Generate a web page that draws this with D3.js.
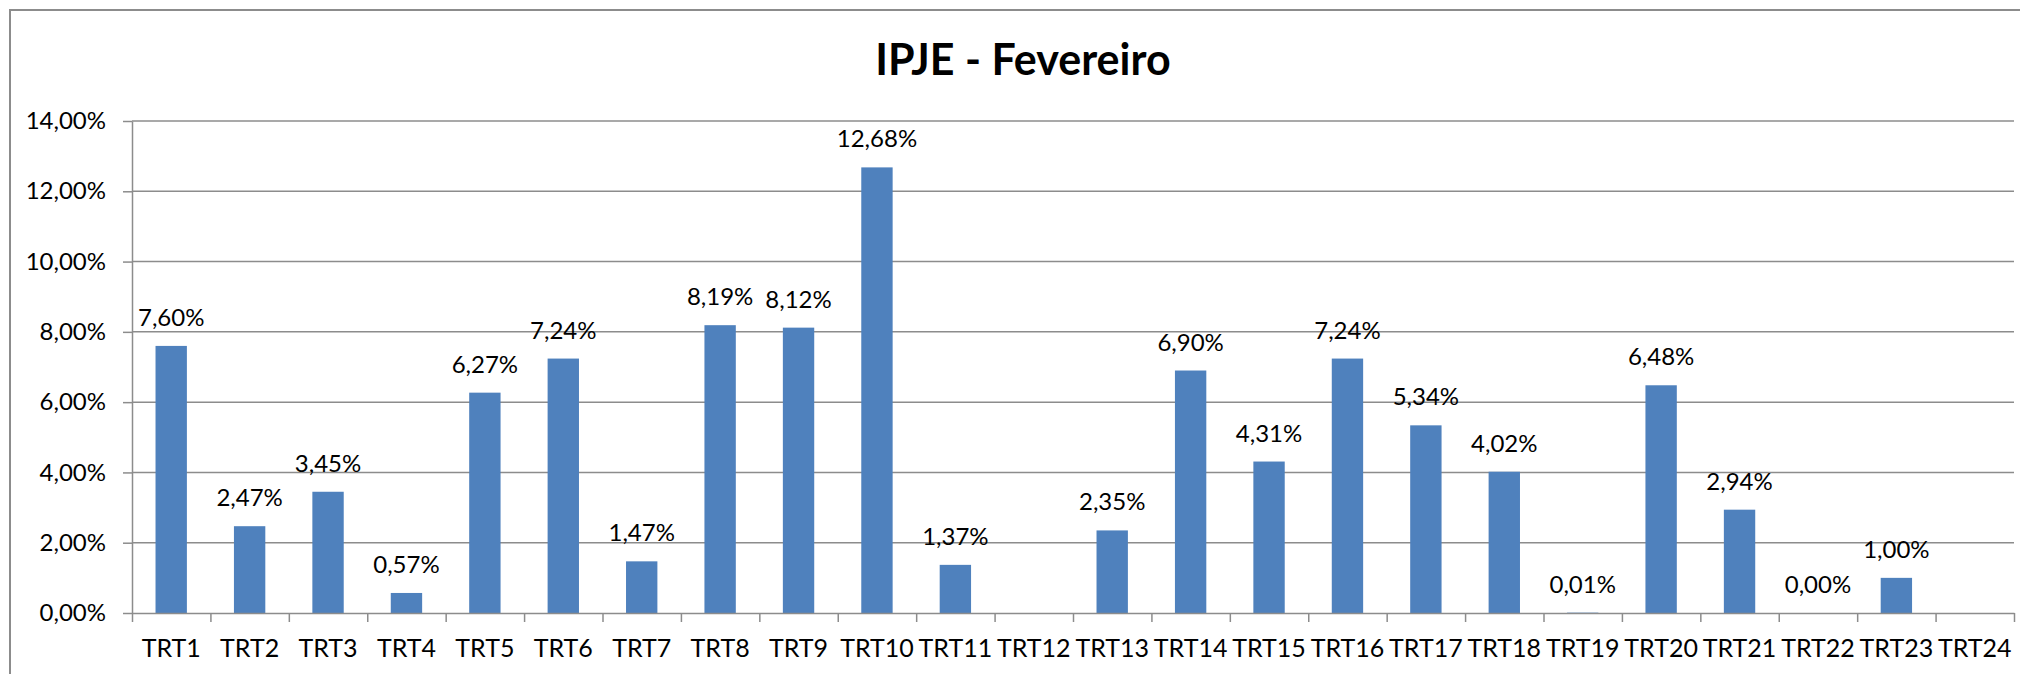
<!DOCTYPE html>
<html>
<head>
<meta charset="utf-8">
<script src="https://cdn.jsdelivr.net/npm/d3@7"></script>
<style>
  body { margin: 0; background: #fff; }
  svg { display: block; }
  .axis path, .axis line { stroke: #8c8c8c; stroke-width: 1.5; }
  text { font-family: Lato, "Open Sans", sans-serif; fill: #000; }
</style>
</head>
<body>
<svg id="vis"></svg>
<script>
// chart data
const categories = ["TRT1","TRT2","TRT3","TRT4","TRT5","TRT6","TRT7","TRT8","TRT9","TRT10","TRT11","TRT12",
  "TRT13","TRT14","TRT15","TRT16","TRT17","TRT18","TRT19","TRT20","TRT21","TRT22","TRT23","TRT24"]
const values = [7.60, 2.47, 3.45, 0.57, 6.27, 7.24, 1.47, 8.19, 8.12, 12.68, 1.37, null,
  2.35, 6.90, 4.31, 7.24, 5.34, 4.02, 0.01, 6.48, 2.94, 0.00, 1.00, null]
const yTicks = [0, 2, 4, 6, 8, 10, 12, 14]
const title = "IPJE - Fevereiro"

const W = 2020, H = 674
const margin = {top: 121, right: 6, bottom: 61, left: 132}
const width = W - margin.left - margin.right
const height = H - margin.top - margin.bottom

const fmt = v => v.toFixed(2).replace(".", ",") + "%"

const svg = d3.select("#vis").attr("width", W).attr("height", H)

// outer frame
svg.append("rect")
  .attr("x", 10).attr("y", 10)
  .attr("width", W + 20).attr("height", H + 20)
  .attr("fill", "none").attr("stroke", "#8c8c8c").attr("stroke-width", 2)

svg.append("text")
  .attr("x", 1023).attr("y", 75)
  .attr("text-anchor", "middle")
  .style("font-size", "43px").style("font-weight", "bold")
  .text(title)

const chart = svg.append("g").attr("transform", `translate(${margin.left},${margin.top})`)

const x = d3.scaleBand().domain(categories).range([0, width]).paddingInner(0.6).paddingOuter(0.3)
const xEdges = d3.scaleLinear().domain([0, categories.length]).range([0, width])
const y = d3.scaleLinear().domain([0, 14]).range([height, 0])

// gridlines
chart.append("g")
  .selectAll("line")
  .data(yTicks.filter(d => d > 0))
  .join("line")
  .attr("x1", 0).attr("x2", width)
  .attr("y1", d => y(d)).attr("y2", d => y(d))
  .attr("stroke", "#8c8c8c").attr("stroke-width", 1.5)

// y axis
const yAxis = chart.append("g").attr("class", "axis")
  .call(d3.axisLeft(y).tickValues(yTicks).tickFormat(fmt).tickSizeInner(9).tickSizeOuter(0).tickPadding(17))
yAxis.selectAll("text").style("font-size", "24px")

// bars
const points = categories.map((c, i) => ({c, v: values[i]})).filter(d => d.v !== null)
chart.append("g")
  .selectAll("rect")
  .data(points)
  .join("rect")
  .attr("x", d => x(d.c))
  .attr("y", d => y(d.v))
  .attr("width", x.bandwidth())
  .attr("height", d => height - y(d.v))
  .attr("fill", "#4f81bd")

// data labels
chart.append("g")
  .selectAll("text")
  .data(points)
  .join("text")
  .attr("x", d => x(d.c) + x.bandwidth() / 2)
  .attr("y", d => y(d.v) - 20)
  .attr("text-anchor", "middle")
  .style("font-size", "24px")
  .text(d => fmt(d.v))

// x axis: boundary ticks
chart.append("g").attr("class", "axis")
  .attr("transform", `translate(0,${height})`)
  .call(d3.axisBottom(xEdges).tickValues(d3.range(categories.length + 1)).tickFormat("").tickSizeInner(9).tickSizeOuter(0))

// x axis labels
const xAxis = chart.append("g")
  .attr("transform", `translate(0,${height})`)
  .call(d3.axisBottom(x).tickSize(0).tickPadding(26))
xAxis.select(".domain").remove()
xAxis.selectAll("text").style("font-size", "25px")
</script>
</body>
</html>
